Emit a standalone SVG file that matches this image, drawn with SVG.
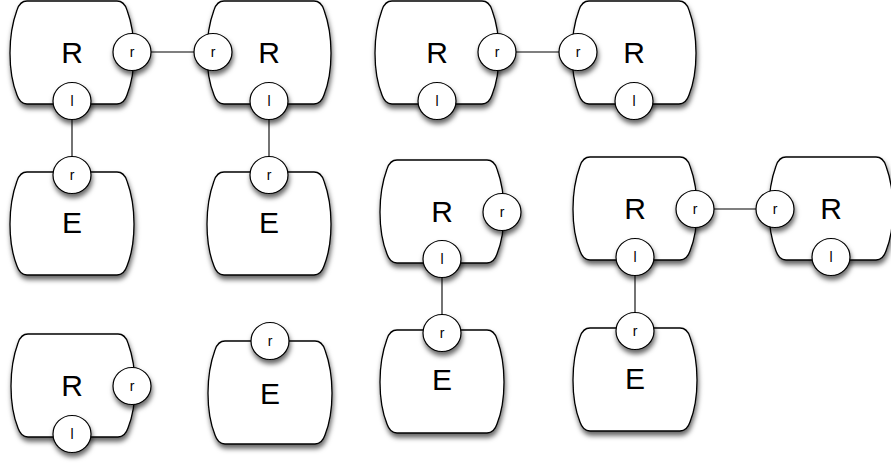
<svg xmlns="http://www.w3.org/2000/svg" xmlns:xlink="http://www.w3.org/1999/xlink" width="891" height="465" viewBox="0 0 891 465">
<style>
.shape{fill:#fff;stroke:#000;stroke-width:1.3;filter:url(#sh)}
.port{fill:#fff;stroke:#000;stroke-width:1.2;filter:url(#sh)}
.lbl{font-family:"Liberation Sans",Arial,sans-serif;font-size:30px;text-anchor:middle;fill:#000}
.plbl{font-family:"Liberation Sans",Arial,sans-serif;font-size:14px;text-anchor:middle;fill:#000}
.conn line{stroke:#000;stroke-width:1.1}
</style>
<defs>
<filter id="sh" x="-20%" y="-20%" width="150%" height="150%">
<feDropShadow dx="1" dy="4" stdDeviation="2.5" flood-color="#000" flood-opacity="0.6"/>
</filter>
<path id="blob" d="M17,0 H107 C112,0 115,3 117,9 C121,20 124,35 124,52 C124,69 121,84 117,94 C115,100 112,103 107,103 H17 C12,103 9,100 7,94 C3,84 0,69 0,52 C0,35 3,20 7,9 C9,3 12,0 17,0 Z"/>
</defs>
<rect width="891" height="465" fill="#fff"/>
<g id="connectors" class="conn">
<line x1="132" y1="52" x2="213" y2="52"/>
<line x1="72" y1="101" x2="72" y2="175"/>
<line x1="269" y1="101" x2="269" y2="175"/>
<line x1="497" y1="52" x2="578" y2="52"/>
<line x1="442" y1="259" x2="442" y2="333"/>
<line x1="695" y1="209" x2="775" y2="209"/>
<line x1="635" y1="257" x2="635" y2="331"/>
</g>
<g id="n1">
<use href="#blob" class="shape" x="10" y="1"/>
<text class="lbl" x="72" y="63">R</text>
<ellipse class="port" cx="132" cy="52" rx="19" ry="18.5"/><text class="plbl" x="132" y="57">r</text>
<ellipse class="port" cx="72" cy="101" rx="19" ry="18.5"/><text class="plbl" x="72" y="106">l</text>
</g>
<g id="n2">
<use href="#blob" class="shape" x="207" y="1"/>
<text class="lbl" x="269" y="63">R</text>
<ellipse class="port" cx="213" cy="52" rx="19" ry="18.5"/><text class="plbl" x="213" y="57">r</text>
<ellipse class="port" cx="269" cy="101" rx="19" ry="18.5"/><text class="plbl" x="269" y="106">l</text>
</g>
<g id="n3">
<use href="#blob" class="shape" x="375" y="1"/>
<text class="lbl" x="437" y="63">R</text>
<ellipse class="port" cx="497" cy="52" rx="19" ry="18.5"/><text class="plbl" x="497" y="57">r</text>
<ellipse class="port" cx="437" cy="101" rx="19" ry="18.5"/><text class="plbl" x="437" y="106">l</text>
</g>
<g id="n4">
<use href="#blob" class="shape" x="572" y="1"/>
<text class="lbl" x="634" y="63">R</text>
<ellipse class="port" cx="578" cy="52" rx="19" ry="18.5"/><text class="plbl" x="578" y="57">r</text>
<ellipse class="port" cx="634" cy="101" rx="19" ry="18.5"/><text class="plbl" x="634" y="106">l</text>
</g>
<g id="e1">
<use href="#blob" class="shape" x="10" y="172"/>
<text class="lbl" x="72" y="233">E</text>
<ellipse class="port" cx="72" cy="175" rx="19" ry="18.5"/><text class="plbl" x="72" y="180">r</text>
</g>
<g id="e2">
<use href="#blob" class="shape" x="207" y="172"/>
<text class="lbl" x="269" y="233">E</text>
<ellipse class="port" cx="269" cy="175" rx="19" ry="18.5"/><text class="plbl" x="269" y="180">r</text>
</g>
<g id="n5">
<use href="#blob" class="shape" x="380" y="160"/>
<text class="lbl" x="442" y="222">R</text>
<ellipse class="port" cx="502" cy="212" rx="19" ry="18.5"/><text class="plbl" x="502" y="217">r</text>
<ellipse class="port" cx="442" cy="259" rx="19" ry="18.5"/><text class="plbl" x="442" y="264">l</text>
</g>
<g id="e3">
<use href="#blob" class="shape" x="380" y="330"/>
<text class="lbl" x="442" y="390">E</text>
<ellipse class="port" cx="442" cy="333" rx="19" ry="18.5"/><text class="plbl" x="442" y="338">r</text>
</g>
<g id="n6">
<use href="#blob" class="shape" x="573" y="157"/>
<text class="lbl" x="635" y="219">R</text>
<ellipse class="port" cx="695" cy="209" rx="19" ry="18.5"/><text class="plbl" x="695" y="214">r</text>
<ellipse class="port" cx="635" cy="257" rx="19" ry="18.5"/><text class="plbl" x="635" y="262">l</text>
</g>
<g id="n7">
<use href="#blob" class="shape" x="769" y="157"/>
<text class="lbl" x="831" y="219">R</text>
<ellipse class="port" cx="775" cy="209" rx="19" ry="18.5"/><text class="plbl" x="775" y="214">r</text>
<ellipse class="port" cx="831" cy="257" rx="19" ry="18.5"/><text class="plbl" x="831" y="262">l</text>
</g>
<g id="e4">
<use href="#blob" class="shape" x="573" y="328"/>
<text class="lbl" x="635" y="389">E</text>
<ellipse class="port" cx="635" cy="331" rx="19" ry="18.5"/><text class="plbl" x="635" y="336">r</text>
</g>
<g id="n8">
<use href="#blob" class="shape" x="11" y="334"/>
<text class="lbl" x="72" y="396">R</text>
<ellipse class="port" cx="132" cy="386" rx="19" ry="18.5"/><text class="plbl" x="132" y="391">r</text>
<ellipse class="port" cx="72" cy="434" rx="19" ry="18.5"/><text class="plbl" x="72" y="439">l</text>
</g>
<g id="e5">
<use href="#blob" class="shape" x="208" y="341"/>
<text class="lbl" x="270" y="404">E</text>
<ellipse class="port" cx="270" cy="341" rx="19" ry="18.5"/><text class="plbl" x="270" y="346">r</text>
</g>
</svg>
